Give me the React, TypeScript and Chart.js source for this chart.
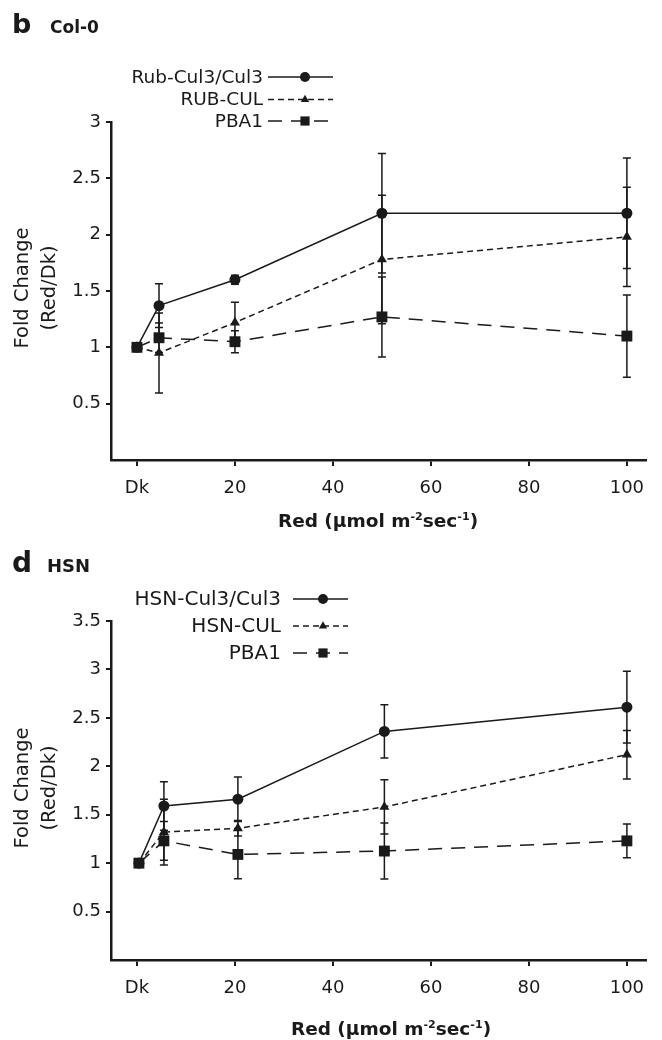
import React, { useEffect, useRef } from 'react';
import { Chart, registerables } from 'chart.js';

Chart.register(...registerables);

const FONT = "'DejaVu Sans', 'Liberation Sans', Arial, sans-serif";
const INK = '#1a1a1a';

// ---- axis ticks ----
const X_TICKS = [0, 20, 40, 60, 80, 100];
const X_TICK_LABELS = ['Dk', '20', '40', '60', '80', '100'];
const B_Y_TICKS = [0.5, 1, 1.5, 2, 2.5, 3];
const D_Y_TICKS = [0.5, 1, 1.5, 2, 2.5, 3, 3.5];

// ---- panel b (Col-0) ----
const B_NAMES = ['Rub-Cul3/Cul3', 'RUB-CUL', 'PBA1'];
const B_X = [0, 4.5, 20, 50, 100];
const B_CUL3 = [1.0, 1.37, 1.6, 2.19, 2.19];
const B_CUL3_ERR = [0, 0.195, 0.04, 0.53, 0.49];
const B_CUL = [1.0, 0.95, 1.22, 1.78, 1.98];
const B_CUL_ERR = [0, 0.355, 0.18, 0.57, 0.44];
const B_PBA1 = [1.0, 1.085, 1.05, 1.27, 1.1];
const B_PBA1_ERR = [0, 0.13, 0.097, 0.355, 0.365];

// ---- panel d (HSN) ----
const D_NAMES = ['HSN-Cul3/Cul3', 'HSN-CUL', 'PBA1'];
const D_X = [0.4, 5.5, 20.6, 50.5, 100];
const D_CUL3 = [1.0, 1.59, 1.66, 2.36, 2.61];
const D_CUL3_ERR = [0, 0.25, 0.23, 0.275, 0.37];
const D_CUL = [1.0, 1.32, 1.36, 1.58, 2.12];
const D_CUL_ERR = [0, 0.34, 0.08, 0.28, 0.25];
const D_PBA1 = [1.0, 1.23, 1.09, 1.125, 1.23];
const D_PBA1_ERR = [0, 0.2, 0.25, 0.29, 0.175];

const X_TITLE_PARTS = [
  { t: 'Red (μmol m', sup: false },
  { t: '-2', sup: true },
  { t: 'sec', sup: false },
  { t: '-1', sup: true },
  { t: ')', sup: false },
];
const Y_TITLE_LINES = ['Fold Change', '(Red/Dk)'];

const STYLES = [
  { pointStyle: 'circle', radius: 5.5, dash: [] as number[], legendR: 5 },
  { pointStyle: 'triangle', radius: 5.8, dash: [6, 4], legendR: 4.8 },
  { pointStyle: 'rect', radius: 7.7, dash: [14, 9], legendR: 6.5 },
];

function drawMarker(ctx: CanvasRenderingContext2D, style: string, x: number, y: number, r: number) {
  ctx.beginPath();
  if (style === 'circle') {
    ctx.arc(x, y, r, 0, Math.PI * 2);
  } else if (style === 'triangle') {
    for (let k = 0; k < 3; k++) {
      const a = (k * 2 * Math.PI) / 3;
      const px = x + Math.sin(a) * r;
      const py = y - Math.cos(a) * r;
      if (k === 0) ctx.moveTo(px, py);
      else ctx.lineTo(px, py);
    }
    ctx.closePath();
  } else {
    const s = Math.SQRT1_2 * r;
    ctx.rect(x - s, y - s, 2 * s, 2 * s);
  }
  ctx.fill();
}

const errorBarsPlugin = {
  id: 'errorBars',
  beforeDatasetsDraw(chart: any) {
    const ctx = chart.ctx as CanvasRenderingContext2D;
    const xs = chart.scales.x;
    const ys = chart.scales.y;
    chart.data.datasets.forEach((ds: any) => {
      const errs: number[] = ds.errors;
      if (!errs) return;
      ctx.save();
      ctx.strokeStyle = INK;
      ctx.lineWidth = 1.5;
      ctx.setLineDash([]);
      ds.data.forEach((pt: any, i: number) => {
        const e = errs[i];
        if (!e) return;
        const px = xs.getPixelForValue(pt.x);
        const top = ys.getPixelForValue(pt.y + e);
        const bot = ys.getPixelForValue(pt.y - e);
        ctx.beginPath();
        ctx.moveTo(px, top);
        ctx.lineTo(px, bot);
        ctx.moveTo(px - 4, top);
        ctx.lineTo(px + 4, top);
        ctx.moveTo(px - 4, bot);
        ctx.lineTo(px + 4, bot);
        ctx.stroke();
      });
      ctx.restore();
    });
  },
};

const decorPlugin = {
  id: 'decor',
  afterDraw(chart: any, _args: any, opts: any) {
    const ctx = chart.ctx as CanvasRenderingContext2D;
    ctx.save();
    ctx.fillStyle = INK;
    ctx.strokeStyle = INK;

    // panel letter and title
    ctx.textBaseline = 'alphabetic';
    ctx.textAlign = 'left';
    ctx.font = `bold ${opts.letterSize}px ${FONT}`;
    ctx.fillText(opts.letter, 12, opts.headBase);
    ctx.font = `bold ${opts.headSize}px ${FONT}`;
    ctx.fillText(opts.head, opts.headX, opts.headBase);

    // legend
    const lg = opts.legend;
    ctx.font = `${lg.size}px ${FONT}`;
    ctx.textAlign = 'right';
    ctx.textBaseline = 'middle';
    chart.data.datasets.forEach((ds: any, i: number) => {
      const y = lg.rows[i];
      const st = STYLES[i];
      ctx.fillText(ds.label, lg.textRight, y + 1);
      ctx.save();
      ctx.lineWidth = 1.5;
      ctx.setLineDash(st.dash);
      ctx.beginPath();
      ctx.moveTo(lg.lineStart, y);
      ctx.lineTo(lg.lineEnd, y);
      ctx.stroke();
      ctx.setLineDash([]);
      drawMarker(ctx, st.pointStyle, lg.markerX, y, st.legendR);
      ctx.restore();
    });

    // y title
    ctx.save();
    ctx.font = `${opts.yTitleSize}px ${FONT}`;
    ctx.textAlign = 'center';
    ctx.textBaseline = 'middle';
    Y_TITLE_LINES.forEach((line, k) => {
      ctx.save();
      ctx.translate(opts.yTitleX[k], opts.yTitleY);
      ctx.rotate(-Math.PI / 2);
      ctx.fillText(line, 0, 0);
      ctx.restore();
    });
    ctx.restore();

    // x title with superscripts
    const size = opts.xTitleSize;
    const supSize = size * 0.6;
    let total = 0;
    const widths = X_TITLE_PARTS.map((p) => {
      ctx.font = `bold ${p.sup ? supSize : size}px ${FONT}`;
      const w = ctx.measureText(p.t).width;
      total += w;
      return w;
    });
    let x = opts.xTitleX - total / 2;
    const base = opts.xTitleY + size * 0.36;
    ctx.textAlign = 'left';
    ctx.textBaseline = 'alphabetic';
    X_TITLE_PARTS.forEach((p, k) => {
      ctx.font = `bold ${p.sup ? supSize : size}px ${FONT}`;
      ctx.fillText(p.t, x, p.sup ? base - size * 0.38 : base);
      x += widths[k];
    });
    ctx.restore();
  },
};

type PanelDef = {
  height: number;
  top: number;
  bottom: number;
  ymax: number;
  yTicks: number[];
  xs: number[];
  names: string[];
  series: number[][];
  errors: number[][];
  decor: any;
};

const X_SCALE_H = 40;

function buildConfig(p: PanelDef): any {
  const datasets = p.series.map((vals, i) => ({
    label: p.names[i],
    data: vals.map((v, j) => ({ x: p.xs[j], y: v })),
    errors: p.errors[i],
    borderColor: INK,
    backgroundColor: INK,
    borderWidth: 1.5,
    borderDash: STYLES[i].dash,
    pointStyle: STYLES[i].pointStyle,
    pointRadius: STYLES[i].radius,
    pointBorderWidth: 0,
    pointBackgroundColor: INK,
    pointBorderColor: INK,
    tension: 0,
    fill: false,
    clip: false,
  }));
  return {
    type: 'line',
    data: { datasets },
    plugins: [errorBarsPlugin, decorPlugin],
    options: {
      responsive: false,
      animation: false,
      devicePixelRatio: 1,
      layout: {
        padding: { top: p.top, right: 16, left: 0, bottom: p.height - p.bottom - X_SCALE_H },
      },
      plugins: {
        legend: { display: false },
        tooltip: { enabled: false },
        decor: p.decor,
      },
      scales: {
        x: {
          type: 'linear',
          min: -5.3,
          max: 103.9,
          afterFit: (s: any) => {
            s.height = X_SCALE_H;
          },
          afterBuildTicks: (s: any) => {
            s.ticks = X_TICKS.map((v) => ({ value: v }));
          },
          ticks: {
            callback: (_v: any, i: number) => X_TICK_LABELS[i],
            font: { family: FONT, size: 18 },
            color: INK,
            padding: 12,
            maxRotation: 0,
          },
          grid: {
            display: true,
            drawOnChartArea: false,
            drawTicks: true,
            tickLength: 6,
            color: INK,
            lineWidth: 2,
          },
          border: { display: true, width: 2.5, color: INK },
        },
        y: {
          type: 'linear',
          min: 0,
          max: p.ymax,
          afterFit: (s: any) => {
            s.width = 111;
          },
          afterBuildTicks: (s: any) => {
            s.ticks = p.yTicks.map((v) => ({ value: v }));
          },
          ticks: {
            callback: (v: any) => String(v),
            font: { family: FONT, size: 18 },
            color: INK,
            padding: 5,
          },
          grid: {
            display: true,
            drawOnChartArea: false,
            drawTicks: true,
            tickLength: 5,
            color: INK,
            lineWidth: 2,
          },
          border: { display: true, width: 2.5, color: INK },
        },
      },
    },
  };
}

const PANEL_B: PanelDef = {
  height: 540,
  top: 122,
  bottom: 460,
  ymax: 3,
  yTicks: B_Y_TICKS,
  xs: B_X,
  names: B_NAMES,
  series: [B_CUL3, B_CUL, B_PBA1],
  errors: [B_CUL3_ERR, B_CUL_ERR, B_PBA1_ERR],
  decor: {
    letter: 'b',
    letterSize: 27,
    head: 'Col-0',
    headSize: 17,
    headX: 50,
    headBase: 33,
    legend: { size: 18.5, textRight: 263, lineStart: 268, lineEnd: 333, markerX: 305, rows: [77, 99.5, 121] },
    yTitleSize: 19.5,
    yTitleX: [23, 50],
    yTitleY: 288,
    xTitleSize: 18.5,
    xTitleX: 378,
    xTitleY: 520,
  },
};

const PANEL_D: PanelDef = {
  height: 500,
  top: 81,
  bottom: 420,
  ymax: 3.5,
  yTicks: D_Y_TICKS,
  xs: D_X,
  names: D_NAMES,
  series: [D_CUL3, D_CUL, D_PBA1],
  errors: [D_CUL3_ERR, D_CUL_ERR, D_PBA1_ERR],
  decor: {
    letter: 'd',
    letterSize: 28,
    head: 'HSN',
    headSize: 18,
    headX: 47,
    headBase: 32,
    legend: { size: 20, textRight: 281, lineStart: 293, lineEnd: 348, markerX: 323, rows: [59, 86, 113] },
    yTitleSize: 19.5,
    yTitleX: [23, 50],
    yTitleY: 248,
    xTitleSize: 18.5,
    xTitleX: 391,
    xTitleY: 488,
  },
};

function Panel({ def, top }: { def: PanelDef; top: number }) {
  const ref = useRef<HTMLCanvasElement | null>(null);
  useEffect(() => {
    if (!ref.current) return;
    const chart = new Chart(ref.current, buildConfig(def));
    return () => chart.destroy();
  }, [def]);
  return (
    <canvas
      ref={ref}
      width={662}
      height={def.height}
      style={{ position: 'absolute', left: 0, top, width: 662, height: def.height }}
    />
  );
}

export default function App() {
  return (
    <div style={{ position: 'absolute', left: 0, top: 0, width: 662, height: 1040, background: '#fff' }}>
      <Panel def={PANEL_B} top={0} />
      <Panel def={PANEL_D} top={540} />
    </div>
  );
}
